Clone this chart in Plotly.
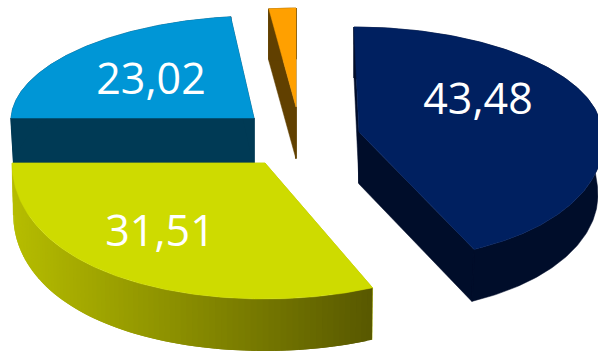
import math
import numpy as np
import plotly.graph_objects as go

# Shares of the pie, clockwise from twelve o'clock
values = [43.48, 31.51, 23.02, 1.99]
labels = ["43,48", "31,51", "23,02", ""]
face_colors = ["#002060", "#CEDB00", "#0096D6", "#FFA000"]
side_left = [(0, 13, 42), (182, 189, 0), (0, 58, 85), (97, 64, 0)]
side_right = [(0, 13, 42), (88, 88, 0), (0, 58, 85), (97, 64, 0)]

# Pixel layout of each exploded slice: hub, radii, perspective, thickness
hub_x = [359, 265, 254, 296]
hub_y = [132, 163, 118, 107]
radius_x = [243, 253, 243, 218]
radius_back = [105, 136, 102, 99]
radius_front = [128, 136, 102, 99]
front_spread = [0.0, 0.08, 0.0, 0.0]
front_shear = [20, 0, 0, 0]
back_shear = [5, 0, -7, 0]
thickness = [52, 52, 50, 52]
bottom_taper = [0.98, 0.995, 0.988, 1.0]
label_x = [478, 160, 151, 0]
label_y = [103, 235, 83, 0]

draw_order = [2, 3, 0, 1]


def rim(i, theta):
    """Project a rim angle (radians clockwise from top) to page pixels."""
    u, v = np.sin(theta), -np.cos(theta)
    r_y = np.where(v > 0, radius_front[i], radius_back[i])
    front = np.maximum(v, 0)
    x = hub_x[i] + radius_x[i] * u * (1 + front_spread[i] * front ** 2) \
        + front_shear[i] * front + back_shear[i] * np.minimum(v, 0)
    y = hub_y[i] + r_y * v
    return x, y


def lower(i, x, y):
    """Shift a top-surface point down to the underside of the slice."""
    return hub_x[i] + (x - hub_x[i]) * bottom_taper[i], y + thickness[i]


def polygon(xs, ys, color, seam=0.5):
    return go.Scatter(
        x=list(xs), y=list(ys), mode="lines", fill="toself", fillcolor=color,
        line=dict(color=color, width=seam), hoverinfo="skip", showlegend=False,
    )


def edge(xs, ys, color):
    return go.Scatter(
        x=list(xs), y=list(ys), mode="lines", line=dict(color=color, width=1.5),
        hoverinfo="skip", showlegend=False,
    )


def mix(a, b, t):
    return "rgb(%d,%d,%d)" % tuple(round(p + (q - p) * t) for p, q in zip(a, b))


fig = go.Figure()
shares = np.array(values) / sum(values) * 2 * math.pi
starts = np.concatenate([[0], np.cumsum(shares)[:-1]])

for i in draw_order:
    a0, a1 = starts[i], starts[i] + shares[i]
    arc = np.linspace(a0, a1, 181)
    ax, ay = rim(i, arc)
    bx, by = lower(i, ax, ay)
    wall = mix(side_left[i], side_left[i], 0)
    hx, hy = float(hub_x[i]), float(hub_y[i])

    # straight cut walls on both sides of the wedge
    for k in (0, -1):
        lx, ly = lower(i, ax[k], ay[k])
        fig.add_trace(polygon(
            [hx, ax[k], lx, hx, hx], [hy, ay[k], ly, hy + thickness[i], hy], wall,
        ))

    # curved outer wall, shaded left to right; each band overlaps the next
    # one so no background shows through between them
    if side_left[i] == side_right[i]:
        fig.add_trace(polygon(np.r_[ax, bx[::-1]], np.r_[ay, by[::-1]], wall))
        # close the joints between the flat walls and the curved wall
        fig.add_trace(edge([hx, hx], [hy, hy + thickness[i] - 1], wall))
        for k in (0, -1):
            fig.add_trace(edge([ax[k], bx[k]], [ay[k], by[k] - 1], wall))
    else:
        lo, hi = min(ax.min(), bx.min()), max(ax.max(), bx.max())
        step = 2
        for j in range(0, len(arc) - 1, step):
            e = min(j + step + 2, len(arc) - 1)
            t = (ax[j:j + step + 1].mean() - lo) / (hi - lo)
            fig.add_trace(polygon(
                np.r_[ax[j:e + 1], bx[j:e + 1][::-1]],
                np.r_[ay[j:e + 1], by[j:e + 1][::-1]],
                mix(side_left[i], side_right[i], t), seam=0,
            ))

    # top surface
    fig.add_trace(polygon(
        np.r_[hub_x[i], ax, hub_x[i]], np.r_[hub_y[i], ay, hub_y[i]], face_colors[i],
    ))

for i, text in enumerate(labels):
    if text:
        fig.add_trace(go.Scatter(
            x=[label_x[i]], y=[label_y[i]], mode="text", text=[text],
            textposition="middle center",
            textfont=dict(family="Open Sans", size=43, color="white"),
            hoverinfo="skip", showlegend=False,
        ))

fig.update_layout(
    width=598, height=355, autosize=False,
    margin=dict(l=0, r=0, t=0, b=0),
    paper_bgcolor="white", plot_bgcolor="white",
    xaxis=dict(range=[0, 598], visible=False, fixedrange=True),
    yaxis=dict(range=[355, 0], visible=False, fixedrange=True),
)
fig.write_html("out.html", config={"displayModeBar": False})
